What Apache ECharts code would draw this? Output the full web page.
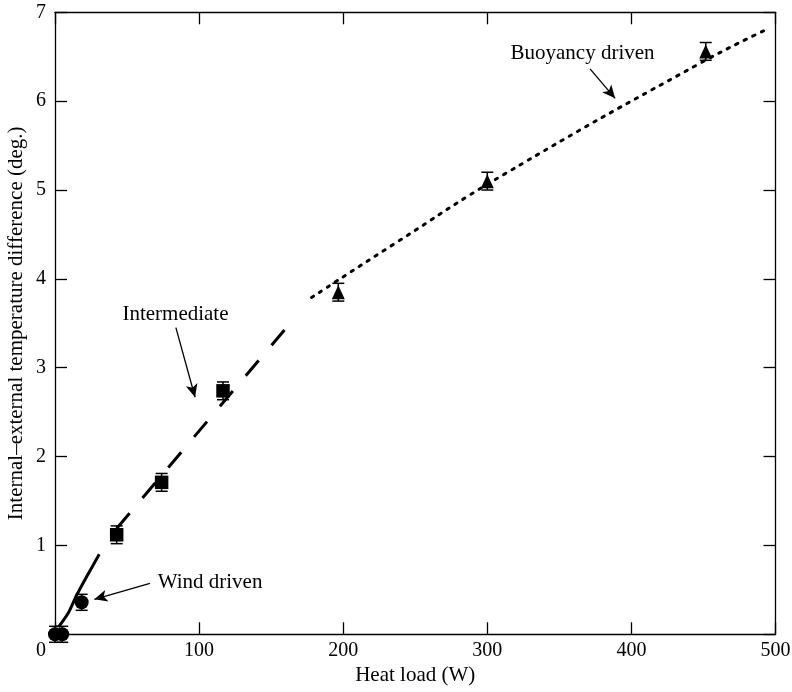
<!DOCTYPE html>
<html>
<head>
<meta charset="utf-8">
<script src="https://cdn.jsdelivr.net/npm/echarts@6/dist/echarts.min.js"></script>
<style>
  html, body { margin: 0; padding: 0; background: #fff; }
  #chart { width: 792px; height: 692px; }
</style>
</head>
<body>
<div id="chart"></div>
<script>
const windX = [0, 5, 18.5];
const windY = [0, 0, 0.36];
const windErr = [0.09, 0.09, 0.09];

const midX = [42.8, 74, 116.6];
const midY = [1.12, 1.71, 2.74];
const midErr = [0.1, 0.1, 0.1];

const buoyX = [196.6, 300, 451.6];
const buoyY = [3.85, 5.10, 6.56];
const buoyErr = [0.1, 0.1, 0.1];

// model curves
const windLineX = [2.3, 9.2, 15.0, 22.0, 30.7];
const windLineY = [0.08, 0.24, 0.44, 0.65, 0.90];
const midLineX = [42.8, 164.7];
const midLineY = [1.19, 3.53];
const buoyLineX = [178, 236, 311, 448, 493];
const buoyLineY = [3.79, 4.40, 5.17, 6.43, 6.80];

const xTicks = [0, 100, 200, 300, 400, 500];
const yTicks = [0, 1, 2, 3, 4, 5, 6, 7];

const serif = 'Liberation Serif';
const pairs = (xs, ys) => xs.map((x, i) => [x, ys[i]]);
const bars = (xs, ys, es) => xs.map((x, i) => [x, ys[i] - es[i], ys[i] + es[i]]);

const chart = echarts.init(document.getElementById('chart'));

function errorBar(params, api) {
  const x = api.value(0);
  const lo = api.coord([x, api.value(1)]);
  const hi = api.coord([x, api.value(2)]);
  const w = 6;
  const style = { stroke: '#000', lineWidth: 1.5 };
  return {
    type: 'group',
    children: [
      { type: 'line', shape: { x1: lo[0], y1: lo[1], x2: hi[0], y2: hi[1] }, style: style },
      { type: 'line', shape: { x1: lo[0] - w, y1: lo[1], x2: lo[0] + w, y2: lo[1] }, style: style },
      { type: 'line', shape: { x1: hi[0] - w, y1: hi[1], x2: hi[0] + w, y2: hi[1] }, style: style }
    ]
  };
}

const axisCommon = {
  axisLine: { onZero: false, lineStyle: { color: '#000', width: 1.3 } },
  axisTick: { inside: true, length: 12, lineStyle: { color: '#000', width: 1.3 } },
  splitLine: { show: false }
};

const arrowLine = {
  symbol: ['none', 'arrow'],
  symbolSize: [9, 13],
  silent: true,
  label: { show: false },
  lineStyle: { color: '#000', width: 1.3, type: 'solid' }
};

const dot = { color: '#000', opacity: 1 };

const option = {
  animation: false,
  backgroundColor: '#fff',
  textStyle: { fontFamily: serif, color: '#000' },
  grid: { left: 55, right: 16.5, top: 12.3, bottom: 57.7, containLabel: false, outerBoundsMode: 'none' },
  xAxis: [
    Object.assign({
      type: 'value', min: xTicks[0], max: xTicks[xTicks.length - 1], interval: 100,
      name: 'Heat load (W)', nameLocation: 'middle', nameGap: 31, nameMoveOverlap: false,
      nameTextStyle: { fontFamily: serif, fontSize: 21, color: '#000' },
      axisLabel: {
        fontFamily: serif, fontSize: 20, color: '#000', margin: 6,
        formatter: v => v === 0 ? '{z|0}' : String(v),
        rich: { z: { fontFamily: serif, fontSize: 20, color: '#000', padding: [0, 28, 0, 0] } }
      }
    }, axisCommon),
    Object.assign({
      type: 'value', position: 'top', min: 0, max: 500, interval: 100,
      axisLabel: { show: false }
    }, axisCommon)
  ],
  yAxis: [
    Object.assign({
      type: 'value', min: yTicks[0], max: yTicks[yTicks.length - 1], interval: 1,
      name: 'Internal\u2013external temperature difference (deg.)',
      nameLocation: 'middle', nameGap: 28, nameMoveOverlap: false,
      nameTextStyle: { fontFamily: serif, fontSize: 21, color: '#000' },
      axisLabel: {
        fontFamily: serif, fontSize: 20, color: '#000', margin: 9,
        formatter: v => v === 0 ? '' : String(v)
      }
    }, axisCommon),
    Object.assign({
      type: 'value', position: 'right', min: 0, max: 7, interval: 1,
      axisLabel: { show: false }
    }, axisCommon)
  ],
  series: [
    {
      type: 'line', data: pairs(windLineX, windLineY), smooth: 0.3, symbol: 'none',
      lineStyle: { color: '#000', width: 3 }, z: 2
    },
    {
      type: 'line', data: pairs(midLineX, midLineY), symbol: 'none',
      lineStyle: { color: '#000', width: 3, type: [20, 20] }, z: 2
    },
    {
      type: 'line', data: pairs(buoyLineX, buoyLineY), smooth: true, symbol: 'none',
      lineStyle: { color: '#000', width: 3, type: [2.5, 7], cap: 'round' }, z: 2,
      markLine: Object.assign({
        data: [
          [{ coord: [371.3, 6.363] }, { coord: [388.7, 6.032] }],
          [{ coord: [83.9, 3.451] }, { coord: [97.2, 2.668] }],
          [{ coord: [65.9, 0.574] }, { coord: [27.3, 0.394] }]
        ]
      }, arrowLine)
    },
    { type: 'custom', renderItem: errorBar, data: bars(windX, windY, windErr), clip: false, z: 3 },
    { type: 'custom', renderItem: errorBar, data: bars(midX, midY, midErr), clip: false, z: 3 },
    { type: 'custom', renderItem: errorBar, data: bars(buoyX, buoyY, buoyErr), clip: false, z: 3 },
    {
      type: 'scatter', data: pairs(windX, windY), symbol: 'circle', symbolSize: 14, clip: false,
      itemStyle: dot, z: 4
    },
    {
      type: 'scatter', data: pairs(midX, midY), symbol: 'rect', symbolSize: 13.5, clip: false,
      itemStyle: dot, z: 4
    },
    {
      type: 'scatter', data: pairs(buoyX, buoyY), symbol: 'triangle', symbolSize: [13, 14], clip: false,
      itemStyle: dot, z: 4
    },
    {
      type: 'scatter', symbolSize: 0, silent: true, z: 5,
      itemStyle: dot,
      label: {
        show: true, position: 'inside', formatter: p => p.name,
        fontFamily: serif, fontSize: 21, color: '#000', opacity: 1
      },
      data: [
        { name: 'Buoyancy driven', value: [366.1, 6.542] },
        { name: 'Intermediate', value: [83.6, 3.599] },
        { name: 'Wind driven', value: [107.6, 0.578] }
      ]
    }
  ]
};

chart.setOption(option);
</script>
</body>
</html>
